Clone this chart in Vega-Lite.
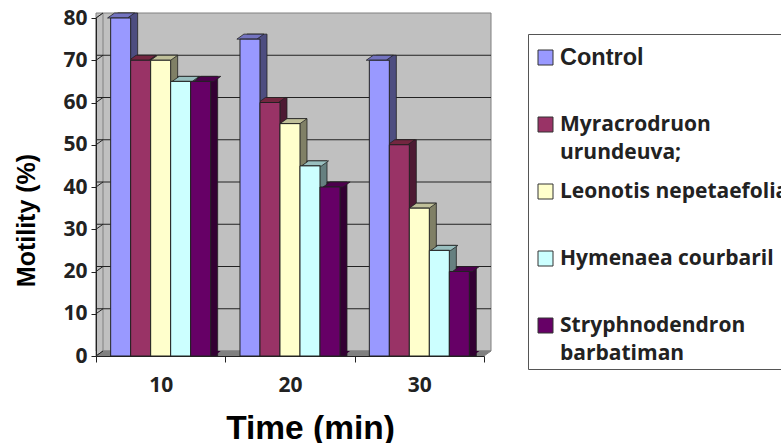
{"$schema":"https://vega.github.io/schema/vega-lite/v6.json","width":388,"height":338,"autosize":"none","padding":{"left":96,"top":18,"right":297,"bottom":87},"background":"white",
"datasets":{"motility":[
{"time":"10","series":"Control","value":80},{"time":"10","series":"Myracrodruon urundeuva;","value":70},{"time":"10","series":"Leonotis nepetaefolia","value":70},{"time":"10","series":"Hymenaea courbaril","value":65},{"time":"10","series":"Stryphnodendron barbatiman","value":65},
{"time":"20","series":"Control","value":75},{"time":"20","series":"Myracrodruon urundeuva;","value":60},{"time":"20","series":"Leonotis nepetaefolia","value":55},{"time":"20","series":"Hymenaea courbaril","value":45},{"time":"20","series":"Stryphnodendron barbatiman","value":40},
{"time":"30","series":"Control","value":70},{"time":"30","series":"Myracrodruon urundeuva;","value":50},{"time":"30","series":"Leonotis nepetaefolia","value":35},{"time":"30","series":"Hymenaea courbaril","value":25},{"time":"30","series":"Stryphnodendron barbatiman","value":20}],
"ticks":[{"v":10},{"v":20},{"v":30},{"v":40},{"v":50},{"v":60},{"v":70}],
"allticks":[{"v":0},{"v":10},{"v":20},{"v":30},{"v":40},{"v":50},{"v":60},{"v":70},{"v":80}],
"range":[{"lo":0,"hi":80}]},
"layer":[
{"data":{"name":"range"},"mark":{"type":"rect","fill":"#C0C0C0","stroke":"#808080","strokeWidth":1,"xOffset":7,"x2Offset":7,"yOffset":-5,"y2Offset":-5},"encoding":{"y":{"field":"lo","type":"quantitative","scale":{"domain":[0,80],"nice":false},"axis":{"title":"Motility (%)","titleFont":"Liberation Sans","titleFontSize":25,"titleFontWeight":"bold","titleColor":"black","titleX":-57,"titleY":202,"values":[0,10,20,30,40,50,60,70,80],"labelFont":"Open Sans","labelFontSize":21,"labelFontWeight":"bold","labelColor":"#222222","labelPadding":4,"tickSize":5,"tickColor":"#222222","domainColor":"#222222","grid":false,"zindex":1}},"y2":{"field":"hi"}}},
{"data":{"name":"range"},"mark":{"type":"point","shape":"M0,0L7,-5L7,-343L0,-338Z","size":4,"filled":true,"fill":"#C0C0C0","stroke":"#808080","strokeWidth":1,"opacity":1},"encoding":{"x":{"value":0},"y":{"field":"lo","type":"quantitative"}}},
{"data":{"name":"ticks"},"mark":{"type":"rule","color":"#222222","strokeWidth":1,"xOffset":7,"x2Offset":7,"yOffset":-5,"y2Offset":-5},"encoding":{"y":{"field":"v","type":"quantitative"}}},
{"data":{"name":"range"},"mark":{"type":"point","shape":"M0,0L7,-5L395,-5L388,0Z","size":4,"filled":true,"fill":"#808080","stroke":"#808080","strokeWidth":1,"opacity":1},"encoding":{"x":{"value":0},"y":{"field":"lo","type":"quantitative"}}},
{"data":{"name":"allticks"},"mark":{"type":"point","shape":"M0,0L7,-5","size":4,"filled":false,"stroke":"#222222","strokeWidth":1,"opacity":1},"encoding":{"x":{"value":0},"y":{"field":"v","type":"quantitative"}}},
{"data":{"name":"motility"},"mark":{"type":"bar","stroke":"#222222","strokeWidth":0.8,"yOffset":-5,"y2Offset":-5},"encoding":{
"x":{"field":"time","type":"nominal","scale":{"padding":0},"axis":{"title":"Time (min)","titleFont":"Liberation Sans","titleFontSize":33.5,"titleFontWeight":"bold","titleColor":"black","titleX":214,"titleY":56,"labelAngle":0,"labelFont":"Open Sans","labelFontSize":21,"labelFontWeight":"bold","labelColor":"#222222","labelPadding":12,"tickBand":"extent","tickSize":6,"tickColor":"#222222","domainColor":"#222222","zindex":1}},
"xOffset":{"field":"series","sort":["Control","Myracrodruon urundeuva;","Leonotis nepetaefolia","Hymenaea courbaril","Stryphnodendron barbatiman"],"scale":{"paddingInner":0,"paddingOuter":0.733,"range":[7,136.33]}},
"y":{"field":"value","type":"quantitative","stack":null},
"color":{"field":"series","type":"nominal","legend":null,"scale":{"domain":["Control","Myracrodruon urundeuva;","Leonotis nepetaefolia","Hymenaea courbaril","Stryphnodendron barbatiman"],"range":["#4D4D80","#4D1A33","#808066","#668080","#330033"]}}}},
{"data":{"name":"motility"},"mark":{"type":"point","shape":"M10,0L17,-5L10,-5Z","size":4,"filled":true,"strokeWidth":0,"opacity":1},"encoding":{
"x":{"field":"time","type":"nominal"},
"xOffset":{"field":"series","sort":["Control","Myracrodruon urundeuva;","Leonotis nepetaefolia","Hymenaea courbaril","Stryphnodendron barbatiman"],"scale":{"type":"point","padding":1.2333}},
"y":{"datum":0,"type":"quantitative"},
"color":{"field":"series","type":"nominal","legend":null,"scale":{"domain":["Control","Myracrodruon urundeuva;","Leonotis nepetaefolia","Hymenaea courbaril","Stryphnodendron barbatiman"],"range":["#4D4D80","#4D1A33","#808066","#668080","#330033"]}}}},
{"data":{"name":"motility"},"mark":{"type":"point","shape":"M-10,0L-3,-5L17,-5L10,0Z","size":4,"filled":true,"stroke":"#222222","strokeWidth":0.8,"opacity":1},"encoding":{
"x":{"field":"time","type":"nominal"},
"xOffset":{"field":"series","sort":["Control","Myracrodruon urundeuva;","Leonotis nepetaefolia","Hymenaea courbaril","Stryphnodendron barbatiman"],"scale":{"type":"point","padding":1.2333}},
"y":{"field":"value","type":"quantitative"},
"fill":{"field":"series","type":"nominal","legend":null,"scale":{"domain":["Control","Myracrodruon urundeuva;","Leonotis nepetaefolia","Hymenaea courbaril","Stryphnodendron barbatiman"],"range":["#7373BF","#732640","#BFBF99","#99BFBF","#4D004D"]}}}},
{"data":{"name":"motility"},"mark":{"type":"bar","stroke":"#222222","strokeWidth":1},"encoding":{
"x":{"field":"time","type":"nominal"},
"xOffset":{"field":"series","sort":["Control","Myracrodruon urundeuva;","Leonotis nepetaefolia","Hymenaea courbaril","Stryphnodendron barbatiman"],"scale":{"paddingInner":0,"paddingOuter":0.733}},
"y":{"field":"value","type":"quantitative","stack":null},
"fill":{"field":"series","type":"nominal","scale":{"domain":["Control","Myracrodruon urundeuva;","Leonotis nepetaefolia","Hymenaea courbaril","Stryphnodendron barbatiman"],"range":["#9999FF","#993366","#FFFFCC","#CCFFFF","#660066"]},
"legend":{"title":" ","titleFontSize":8,"titlePadding":0,"orient":"none","legendX":432,"legendY":16,"direction":"vertical","columns":1,"gridAlign":"all","padding":5,"rowPadding":17,"strokeColor":"#555555","fillColor":"white","symbolType":"square","symbolSize":225,"symbolOffset":2,"symbolStrokeColor":"#333333","symbolStrokeWidth":1,"symbolOpacity":1,"labelFont":"Open Sans","labelFontSize":21,"labelFontWeight":"bold","labelColor":"#222222","labelLimit":400,"labelOffset":4,"labelExpr":"datum.label=='Myracrodruon urundeuva;'?['Myracrodruon','urundeuva;']:datum.label=='Stryphnodendron barbatiman'?['Stryphnodendron','barbatiman']:datum.label","encode":{"labels":{"update":{"lineHeight":{"value":28},"font":{"signal":"datum.value=='Control'?'Liberation Sans':'Open Sans'"},"fontSize":{"signal":"datum.value=='Control'?23.5:21"}}}}}}}}
],
"resolve":{"scale":{"color":"independent","fill":"independent","xOffset":"independent"}},
"config":{"view":{"stroke":null}}}
